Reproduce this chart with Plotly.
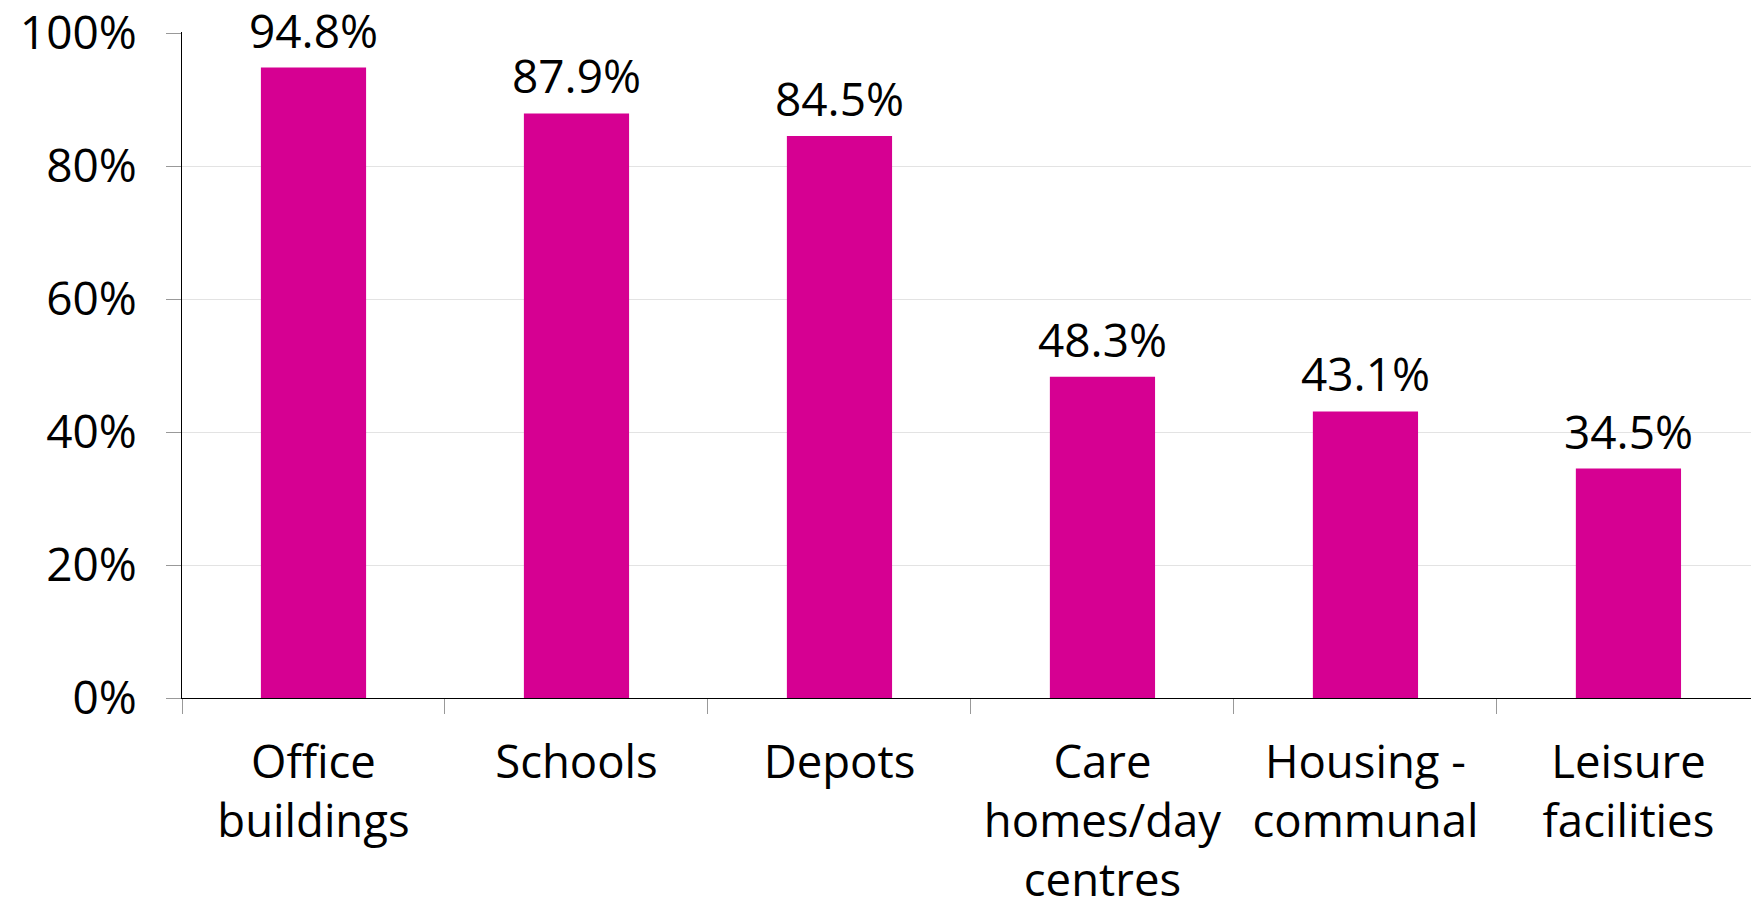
import plotly.graph_objects as go

# Share of buildings by type
categories = [
    "Office<br>buildings",
    "Schools",
    "Depots",
    "Care<br>homes/day<br>centres",
    "Housing -<br>communal",
    "Leisure<br>facilities",
]
values = [94.8, 87.9, 84.5, 48.3, 43.1, 34.5]
y_ticks = [0, 20, 40, 60, 80, 100]
y_tick_labels = [f"{v}%" for v in y_ticks]

BAR_COLOR = "#D60092"
FONT = "Open Sans"
FONT_SIZE = 46

fig = go.Figure(
    go.Bar(
        x=categories,
        y=values,
        marker=dict(color=BAR_COLOR, line=dict(width=0)),
        hoverinfo="skip",
    )
)

# Value labels above each bar
for cat, v in zip(categories, values):
    fig.add_annotation(
        x=cat, y=v, text=f"{v:.1f}%", showarrow=False,
        xanchor="center", yanchor="bottom", yshift=5,
        font=dict(family=FONT, size=FONT_SIZE, color="black"),
    )

fig.update_layout(
    width=1751, height=901,
    margin=dict(l=182, r=0, t=32, b=203, autoexpand=False),
    paper_bgcolor="white", plot_bgcolor="white",
    bargap=0.6,
    showlegend=False,
    font=dict(family=FONT, size=FONT_SIZE, color="black"),
)

fig.update_xaxes(
    type="category",
    range=[-0.5, 5.466],
    automargin=False,
    ticks="outside", ticklen=15, tickwidth=1, tickcolor="#999999",
    tickson="boundaries",
    ticklabelstandoff=24,
    showline=True, linecolor="black", linewidth=1,
    showgrid=False, zeroline=False,
    tickfont=dict(family=FONT, size=45.5, color="black"),
)

fig.update_yaxes(
    range=[0, 100.15],
    automargin=False,
    tickmode="array",
    tickvals=y_ticks,
    ticktext=y_tick_labels,
    ticks="outside", ticklen=15, tickwidth=1, tickcolor="#999999",
    ticklabelstandoff=20,
    showline=True, linecolor="black", linewidth=1,
    showgrid=True, gridcolor="#E3E3E3", gridwidth=1,
    zeroline=False,
    tickfont=dict(family=FONT, size=FONT_SIZE, color="black"),
)

fig.write_html("out.html")
